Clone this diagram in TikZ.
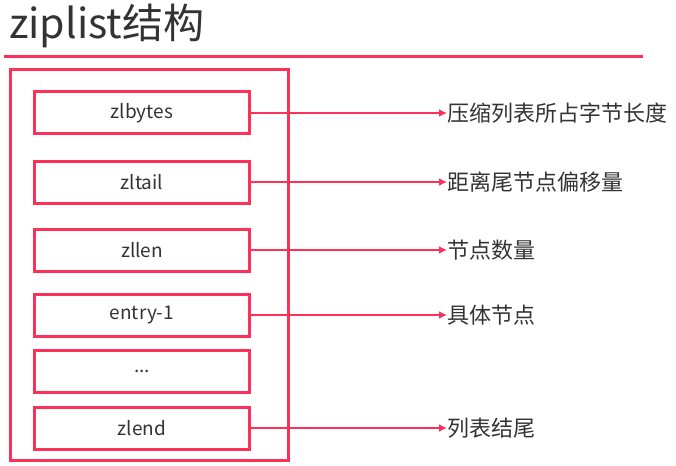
\documentclass[tikz,border=0pt]{standalone}
\usepackage{fontspec}
\setmainfont{Noto Sans CJK SC}
\usetikzlibrary{arrows.meta,positioning}
\definecolor{zred}{RGB}{255,48,88}
\definecolor{ztext}{RGB}{51,51,51}

\begin{document}
\begin{tikzpicture}[
      x=1pt,y=-1pt,
      field/.style={rectangle,draw=zred,line width=3pt,minimum width=215pt,minimum height=42pt,text=ztext,font=\fontsize{19}{21}\selectfont},
      note/.style={anchor=west,inner sep=0pt,text=ztext,font=\fontsize{22}{24}\selectfont},
      link/.style={->,draw=zred,line width=2pt},
      >={Latex[length=8pt,width=8pt]}
    ]
    \useasboundingbox (0,0) rectangle (676,465);
    \node[anchor=base west,inner sep=0pt,text=ztext,font=\fontsize{41}{44}\selectfont] (title) at (9,39) {ziplist结构};
    \draw[zred,line width=3pt] (4,57) -- (643,57);
    \draw[zred,line width=3pt] (10.5,69.5) rectangle (288.5,460.5);

    \node[field] (zlbytes) at (142,113) {zlbytes};
    \node[field] (zltail) at (142,182) {zltail};
    \node[field] (zllen) at (142,250) {zllen};
    \node[field] (entry) at (142,315) {entry-1};
    \node[field] (dots) at (142,371) {...};
    \node[field] (zlend) at (142,428) {zlend};

    \node[note] (nbytes) at (447,113) {压缩列表所占字节长度};
    \node[note] (ntail) at (447,182) {距离尾节点偏移量};
    \node[note] (nlen) at (447,250) {节点数量};
    \node[note] (nentry) at (447,315) {具体节点};
    \node[note] (nend) at (447,428) {列表结尾};

    \draw[link] (zlbytes) -- (nbytes);
    \draw[link] (zltail) -- (ntail);
    \draw[link] (zllen) -- (nlen);
    \draw[link] (entry) -- (nentry);
    \draw[link] (zlend) -- (nend);
  \end{tikzpicture}
\end{document}
